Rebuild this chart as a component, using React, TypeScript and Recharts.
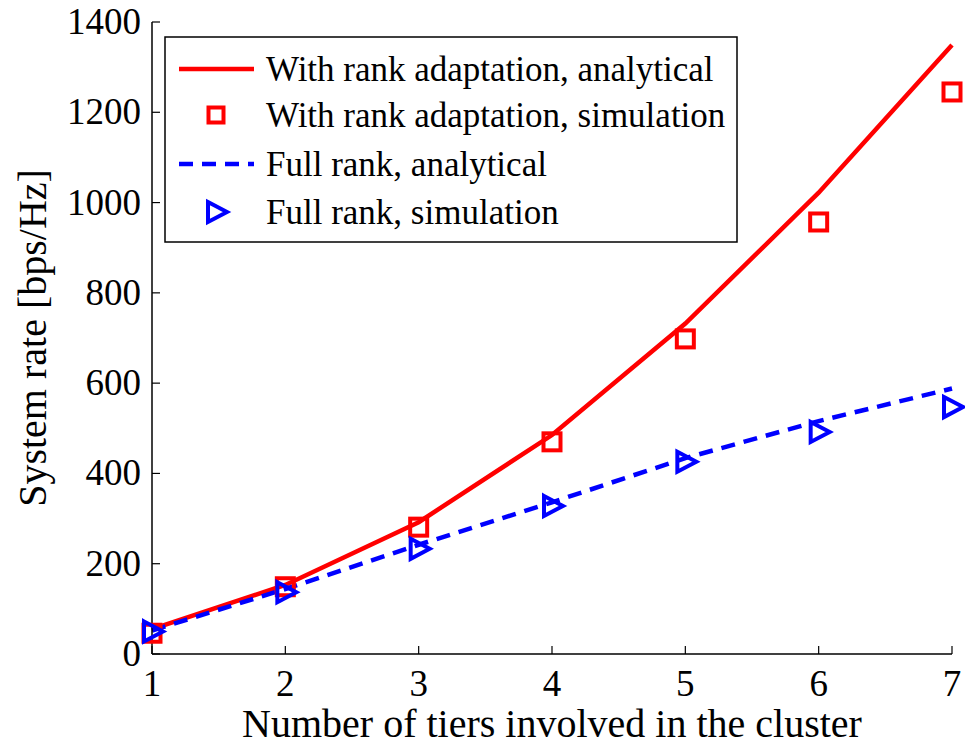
import { LineChart, Line, XAxis, YAxis, Legend, Label } from "recharts";

// tiers in the cluster and system rate (bps/Hz) per curve
const tiers = [1, 2, 3, 4, 5, 6, 7];
const rankAdaptAnalytical = [55, 153, 292, 485, 732, 1022, 1349];
const rankAdaptSimulation = [46, 149, 281, 470, 698, 957, 1245];
const fullRankAnalytical = [52, 144, 242, 336, 434, 516, 588];
const fullRankSimulation = [50, 137, 233, 328, 426, 492, 547];
const yTicks = [0, 200, 400, 600, 800, 1000, 1200, 1400];

const NAMES = {
  rankAdaptAnalytical: "With rank adaptation, analytical",
  rankAdaptSimulation: "With rank adaptation, simulation",
  fullRankAnalytical: "Full rank, analytical",
  fullRankSimulation: "Full rank, simulation",
};

const data = tiers.map((tier, i) => ({
  tier,
  rankAdaptAnalytical: rankAdaptAnalytical[i],
  rankAdaptSimulation: rankAdaptSimulation[i],
  fullRankAnalytical: fullRankAnalytical[i],
  fullRankSimulation: fullRankSimulation[i],
}));

const FONT = '"Liberation Serif", "Times New Roman", "DejaVu Serif", serif';
const RED = "#ff0000";
const BLUE = "#0000ff";
const TICK_FONT = 37;
const TITLE_FONT = 40;
const TICK_LEN = 8;

// ticks point into the plot box on all four sides, MATLAB style
function BottomTick({ x, y, payload }: any) {
  return (
    <g>
      <line x1={x} y1={y} x2={x} y2={y - TICK_LEN} stroke="#000" strokeWidth={1.2} />
      <text x={x} y={y + 42} textAnchor="middle" style={{ fontSize: TICK_FONT, fontFamily: FONT }} fill="#000">
        {payload.value}
      </text>
    </g>
  );
}

function TopTick({ x, y }: any) {
  return <line x1={x} y1={y} x2={x} y2={y + TICK_LEN} stroke="#000" strokeWidth={1.2} />;
}

function LeftTick({ x, y, payload }: any) {
  return (
    <g>
      <line x1={x} y1={y} x2={x + TICK_LEN} y2={y} stroke="#000" strokeWidth={1.2} />
      <text x={x - 11} y={y + 12} textAnchor="end" style={{ fontSize: TICK_FONT, fontFamily: FONT }} fill="#000">
        {payload.value}
      </text>
    </g>
  );
}

function RightTick({ x, y }: any) {
  return <line x1={x} y1={y} x2={x - TICK_LEN} y2={y} stroke="#000" strokeWidth={1.2} />;
}

function SquareMark({ cx, cy, size = 17 }: any) {
  if (cx == null || cy == null) return null;
  const h = size / 2;
  return <rect x={cx - h} y={cy - h} width={size} height={size} fill="none" stroke={RED} strokeWidth={4} />;
}

function TriangleMark({ cx, cy }: any) {
  if (cx == null || cy == null) return null;
  const pts = `${cx - 8},${cy - 10} ${cx + 11},${cy} ${cx - 8},${cy + 10}`;
  return <polygon points={pts} fill="none" stroke={BLUE} strokeWidth={4} strokeLinejoin="miter" />;
}

function LegendBox() {
  const rowY = [33, 79, 128, 176];
  const textStyle = { fontSize: 35, fontFamily: FONT };
  return (
    <svg width={574} height={207} style={{ display: "block" }}>
      <rect x={1} y={1} width={572} height={205} fill="#fff" stroke="#000" strokeWidth={1.5} />
      <line x1={15} y1={rowY[0]} x2={90} y2={rowY[0]} stroke={RED} strokeWidth={4.5} />
      <SquareMark cx={52} cy={rowY[1]} size={15} />
      <line x1={15} y1={rowY[2]} x2={90} y2={rowY[2]} stroke={BLUE} strokeWidth={4.5} strokeDasharray="14 9" />
      <TriangleMark cx={52} cy={rowY[3]} />
      <text x={102} y={rowY[0] + 12} style={textStyle} fill="#000">{NAMES.rankAdaptAnalytical}</text>
      <text x={102} y={rowY[1] + 12} style={textStyle} fill="#000">{NAMES.rankAdaptSimulation}</text>
      <text x={102} y={rowY[2] + 12} style={textStyle} fill="#000">{NAMES.fullRankAnalytical}</text>
      <text x={102} y={rowY[3] + 12} style={textStyle} fill="#000">{NAMES.fullRankSimulation}</text>
    </svg>
  );
}

export default function App() {
  return (
    <div style={{ position: "absolute", left: 0, top: 0, background: "#fff" }}>
      <LineChart width={965} height={745} data={data} margin={{ top: 22, right: 13, bottom: 0, left: 0 }}>
        <XAxis
          dataKey="tier"
          type="number"
          domain={[1, 7]}
          ticks={tiers}
          interval={0}
          height={91}
          tickSize={0}
          tickMargin={0}
          tickLine={false}
          axisLine={{ stroke: "#000", strokeWidth: 1.5 }}
          tick={<BottomTick />}
        >
          <Label
            content={() => (
              <text x={552} y={737} textAnchor="middle" style={{ fontSize: TITLE_FONT, fontFamily: FONT }} fill="#000">
                Number of tiers involved in the cluster
              </text>
            )}
          />
        </XAxis>
        <XAxis
          xAxisId="top"
          orientation="top"
          type="number"
          domain={[1, 7]}
          ticks={tiers}
          interval={0}
          height={0}
          tickSize={0}
          tickMargin={0}
          tickLine={false}
          axisLine={{ stroke: "#000", strokeWidth: 1.5 }}
          tick={<TopTick />}
        />
        <YAxis
          type="number"
          domain={[0, 1400]}
          ticks={yTicks}
          interval={0}
          width={152}
          tickSize={0}
          tickMargin={0}
          tickLine={false}
          axisLine={{ stroke: "#000", strokeWidth: 1.5 }}
          tick={<LeftTick />}
        >
          <Label
            content={() => (
              <text
                x={46}
                y={338}
                transform="rotate(-90, 46, 338)"
                textAnchor="middle"
                style={{ fontSize: TITLE_FONT, fontFamily: FONT }}
                fill="#000"
              >
                System rate [bps/Hz]
              </text>
            )}
          />
        </YAxis>
        <YAxis
          yAxisId="right"
          orientation="right"
          type="number"
          domain={[0, 1400]}
          ticks={yTicks}
          interval={0}
          width={0}
          tickSize={0}
          tickMargin={0}
          tickLine={false}
          axisLine={{ stroke: "#000", strokeWidth: 1.5 }}
          tick={<RightTick />}
        />
        <Legend
          layout="vertical"
          align="center"
          verticalAlign="middle"
          wrapperStyle={{ left: 164, top: 36, width: 574, height: 207 }}
          content={() => <LegendBox />}
        />
        <Line
          dataKey="rankAdaptAnalytical"
          name={NAMES.rankAdaptAnalytical}
          stroke={RED}
          strokeWidth={4.5}
          dot={false}
          activeDot={false}
          isAnimationActive={false}
        />
        <Line
          dataKey="rankAdaptSimulation"
          name={NAMES.rankAdaptSimulation}
          stroke="none"
          dot={<SquareMark />}
          activeDot={false}
          isAnimationActive={false}
        />
        <Line
          dataKey="fullRankAnalytical"
          name={NAMES.fullRankAnalytical}
          stroke={BLUE}
          strokeWidth={4.5}
          strokeDasharray="14 9"
          dot={false}
          activeDot={false}
          isAnimationActive={false}
        />
        <Line
          dataKey="fullRankSimulation"
          name={NAMES.fullRankSimulation}
          stroke="none"
          dot={<TriangleMark />}
          activeDot={false}
          isAnimationActive={false}
        />
      </LineChart>
    </div>
  );
}
